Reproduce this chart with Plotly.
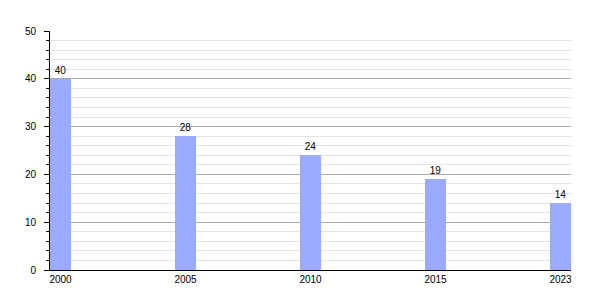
import plotly.graph_objects as go

years = ["2000", "2005", "2010", "2015", "2023"]
values = [40, 28, 24, 19, 14]
positions = list(range(len(years)))

fig = go.Figure(go.Bar(
    x=positions, y=values, width=0.168,
    marker=dict(color="#99aaff", line=dict(width=0)),
    text=[str(v) for v in values], textposition="outside",
    textfont=dict(family="Liberation Sans, Arial, sans-serif", size=10, color="#000"),
    cliponaxis=False,
))

fig.update_layout(
    width=600, height=300,
    margin=dict(l=50, r=29, t=31, b=30),
    paper_bgcolor="white", plot_bgcolor="white",
    font=dict(family="Liberation Sans, Arial, sans-serif", size=10, color="#000"),
    showlegend=False,
    bargap=0,
)
fig.update_xaxes(
    range=[-0.084, 4.084], tickvals=positions, ticktext=years,
    showgrid=False, zeroline=False, showline=True, linecolor="#000", linewidth=1,
    ticks="", ticklabelstandoff=0,
)
fig.update_yaxes(
    range=[0, 50], tickvals=[0, 10, 20, 30, 40, 50],
    showgrid=True, gridcolor="#aaaaaa", gridwidth=1,
    zeroline=False, showline=True, linecolor="#000", linewidth=1,
    ticks="outside", ticklen=5, tickcolor="#000", ticklabelstandoff=6,
    minor=dict(dtick=2, showgrid=True, gridcolor="#e4e4e4", ticks="outside", ticklen=3, tickcolor="#000"),
)

fig.write_html("out.html")
